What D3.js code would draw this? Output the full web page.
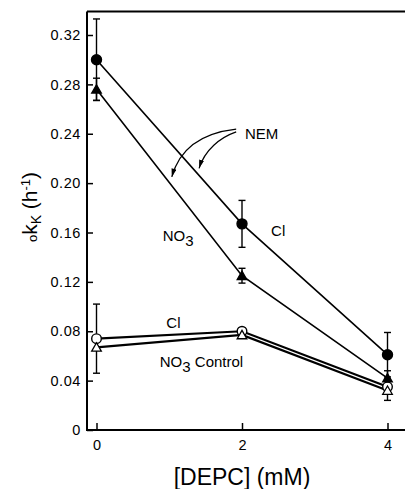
<!DOCTYPE html>
<html>
<head>
<meta charset="utf-8">
<script src="https://cdn.jsdelivr.net/npm/d3@7"></script>
<style>
  body { margin: 0; background: #fff; }
  svg { display: block; font-family: "Liberation Sans", Arial, sans-serif; }
</style>
</head>
<body>
<svg id="chart"></svg>
<script>
var doses = [0, 2, 4];
var xTicks = [0, 2, 4];
var yTicks = [0, 0.04, 0.08, 0.12, 0.16, 0.20, 0.24, 0.28, 0.32];

var clNem = [0.300, 0.167, 0.061];
var clNemErr = [0.033, 0.019, 0.018];
var no3Nem = [0.276, 0.125, 0.042];
var no3NemErr = [0.009, 0.006, 0.006];
var clCtrl = [0.074, 0.080, 0.035];
var clCtrlErr = [0.028, 0.002, 0];
var no3Ctrl = [0.067, 0.077, 0.032];
var no3CtrlErr = [0, 0.002, 0.008];

var svg = d3.select('#chart').attr('width', 405).attr('height', 489);

var frame = { left: 87, top: 11.5, bottom: 430, right: 405 };

var x = d3.scaleLinear().domain([0, 4]).range([96.5, 387.5]);
var y = d3.scaleLinear().domain([0, 0.32]).range([430, 35]);

// frame lines
svg.append('line')
  .attr('x1', frame.left).attr('x2', frame.left)
  .attr('y1', frame.top).attr('y2', frame.bottom)
  .attr('stroke', '#000').attr('stroke-width', 2);
svg.append('line')
  .attr('x1', frame.left).attr('x2', frame.right)
  .attr('y1', frame.top).attr('y2', frame.top)
  .attr('stroke', '#000').attr('stroke-width', 2);
svg.append('line')
  .attr('x1', frame.left - 1).attr('x2', frame.right)
  .attr('y1', frame.bottom).attr('y2', frame.bottom)
  .attr('stroke', '#000').attr('stroke-width', 2);

// axes
var yAxis = svg.append('g')
  .attr('transform', 'translate(' + frame.left + ',0)')
  .call(d3.axisLeft(y).tickValues(yTicks).tickSize(-6).tickPadding(6)
    .tickFormat(function(d) { return d === 0 ? '0' : d3.format('.2f')(d); }));
yAxis.select('.domain').remove();
yAxis.selectAll('line').attr('stroke-width', 1.5);
yAxis.selectAll('text').attr('font-size', 14.5).attr('letter-spacing', 0.6).attr('fill', '#000');

var xAxis = svg.append('g')
  .attr('transform', 'translate(0,' + frame.bottom + ')')
  .call(d3.axisBottom(x).tickValues(xTicks).tickSize(-7).tickPadding(10)
    .tickFormat(d3.format('d')));
xAxis.select('.domain').remove();
xAxis.selectAll('line').attr('stroke-width', 1.5);
xAxis.selectAll('text').attr('font-size', 14.5).attr('fill', '#000');

// axis titles
svg.append('text')
  .attr('x', 242).attr('y', 485)
  .attr('text-anchor', 'middle')
  .attr('font-size', 23)
  .text('[DEPC] (mM)');

var yt = svg.append('text')
  .attr('transform', 'translate(37,207) rotate(-90)')
  .attr('text-anchor', 'middle')
  .attr('font-size', 21);
yt.append('tspan').attr('font-size', 13).text('o');
yt.append('tspan').text('k');
yt.append('tspan').attr('font-size', 14).attr('dy', 4).text('K');
yt.append('tspan').attr('dy', -4).text(' (h');
yt.append('tspan').attr('font-size', 13).attr('dy', -7).text('-1');
yt.append('tspan').attr('dy', 7).text(')');

// series
var series = [
  { vals: clCtrl, err: clCtrlErr, shape: 'circle', filled: false, w: 2.2 },
  { vals: no3Ctrl, err: no3CtrlErr, shape: 'triangle', filled: false, w: 2.2 },
  { vals: no3Nem, err: no3NemErr, shape: 'triangle', filled: true, w: 1.6 },
  { vals: clNem, err: clNemErr, shape: 'circle', filled: true, w: 1.6 }
];

var line = d3.line()
  .x(function(d) { return x(d.dose); })
  .y(function(d) { return y(d.v); });

series.forEach(function(s) {
  var pts = doses.map(function(d, i) { return { dose: d, v: s.vals[i], e: s.err[i] }; });
  svg.append('path')
    .datum(pts)
    .attr('d', line)
    .attr('fill', 'none')
    .attr('stroke', '#000')
    .attr('stroke-width', s.w);
  s.pts = pts;
});

// error bars
series.forEach(function(s) {
  var g = svg.append('g').attr('stroke', '#000').attr('stroke-width', 1.4);
  s.pts.filter(function(p) { return p.e > 0.003; }).forEach(function(p) {
    g.append('line')
      .attr('x1', x(p.dose)).attr('x2', x(p.dose))
      .attr('y1', y(p.v - p.e)).attr('y2', y(p.v + p.e));
    [p.v - p.e, p.v + p.e].forEach(function(v) {
      g.append('line')
        .attr('x1', x(p.dose) - 3.5).attr('x2', x(p.dose) + 3.5)
        .attr('y1', y(v)).attr('y2', y(v));
    });
  });
});

// markers
var tri = d3.symbol().type(d3.symbolTriangle).size(40);
series.forEach(function(s) {
  var g = svg.append('g');
  s.pts.forEach(function(p) {
    if (s.shape === 'circle') {
      g.append('circle')
        .attr('cx', x(p.dose)).attr('cy', y(p.v))
        .attr('r', s.filled ? 5 : 4.8)
        .attr('fill', s.filled ? '#000' : '#fff')
        .attr('stroke', '#000').attr('stroke-width', 1.4);
    } else {
      g.append('path')
        .attr('d', tri)
        .attr('transform', 'translate(' + x(p.dose) + ',' + (y(p.v) + 1) + ')')
        .attr('fill', s.filled ? '#000' : '#fff')
        .attr('stroke', '#000').attr('stroke-width', 1.3);
    }
  });
});

// annotations
svg.append('defs').append('marker')
  .attr('id', 'arrow')
  .attr('viewBox', '0 0 10 6')
  .attr('refX', 10).attr('refY', 3)
  .attr('markerWidth', 9).attr('markerHeight', 5)
  .attr('markerUnits', 'userSpaceOnUse')
  .attr('orient', 'auto')
  .append('path').attr('d', 'M0,0 L10,3 L0,6 Z').attr('fill', '#000');

function lbl(dx, dy, parts, size) {
  var t = svg.append('text').attr('x', x(dx)).attr('y', y(dy)).attr('font-size', size || 15);
  parts.forEach(function(p) {
    var ts = t.append('tspan').text(p[0]);
    if (p[1]) ts.attr('font-size', p[1]);
    if (p[2]) ts.attr('dy', p[2]);
  });
  return t;
}

lbl(2.04, 0.236, [['NEM']]);
lbl(0.91, 0.153, [['NO'], ['3', 15, 5]]);
lbl(2.40, 0.157, [['Cl']]);
lbl(0.96, 0.0826, [['Cl']]);
lbl(0.87, 0.051, [['NO'], ['3', 15, 5], ['  Control', 15, -5]]);

var arrowPaths = [
  [[1.92, 0.2438], [1.50, 0.241], [1.15, 0.230], [1.035, 0.205]],
  [[1.92, 0.2415], [1.70, 0.237], [1.49, 0.227], [1.41, 0.212]]
];
arrowPaths.forEach(function(a) {
  var p = d3.path();
  p.moveTo(x(a[0][0]), y(a[0][1]));
  p.bezierCurveTo(x(a[1][0]), y(a[1][1]), x(a[2][0]), y(a[2][1]), x(a[3][0]), y(a[3][1]));
  svg.append('path')
    .attr('d', p.toString())
    .attr('fill', 'none')
    .attr('stroke', '#000')
    .attr('stroke-width', 1.2)
    .attr('marker-end', 'url(#arrow)');
});
</script>
</body>
</html>
